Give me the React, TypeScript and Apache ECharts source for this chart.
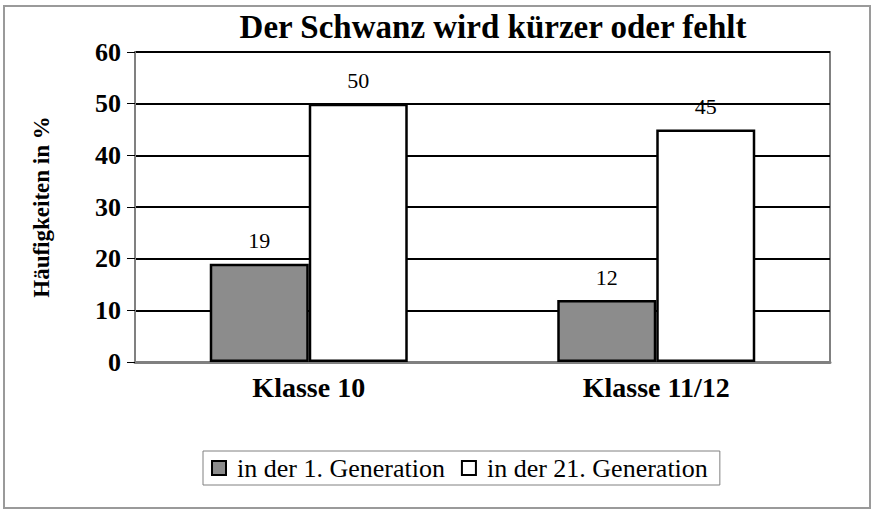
import React, { useEffect, useRef } from "react";
import * as echarts from "echarts";

const titleText = "Der Schwanz wird kürzer oder fehlt";
const yAxisName = "Häufigkeiten in %";
const categories = ["Klasse 10", "Klasse 11/12"];
const seriesNames = ["in der 1. Generation", "in der 21. Generation"];
const gen1Values = [19, 12];
const gen21Values = [50, 45];
const yMin = 0;
const yMax = 60;
const yInterval = 10;

const SERIF = "'Liberation Serif', 'Times New Roman', serif";

export default function App() {
  const ref = useRef<HTMLDivElement>(null);
  useEffect(() => {
    document.body.style.margin = "0";
    const chart = echarts.init(ref.current!, null, { renderer: "svg" });
    const labelStyle = {
      show: true,
      position: "top" as const,
      distance: 12,
      fontFamily: SERIF,
      fontSize: 22,
      color: "#000",
    };
    chart.setOption({
      animation: false,
      backgroundColor: "#fff",
      title: {
        text: titleText,
        left: 488,
        top: 5,
        textAlign: "center",
        textStyle: { fontFamily: SERIF, fontWeight: "bold", fontSize: 33, color: "#000" },
      },
      graphic: [
        {
          type: "rect",
          shape: { x: 4, y: 6, width: 866, height: 502 },
          style: { fill: "none", stroke: "#9a9a9a", lineWidth: 2 },
          silent: true,
          z: -1,
        },
      ],
      grid: {
        left: 135,
        right: 43,
        top: 52,
        bottom: 148,
        show: true,
        borderColor: "#808080",
        borderWidth: 2,
        containLabel: false,
      },
      legend: {
        left: 203,
        top: 451,
        itemWidth: 14,
        itemHeight: 14,
        itemGap: 16,
        padding: [4, 12, 4, 8],
        borderColor: "#808080",
        borderWidth: 1,
        icon: "rect",
        textStyle: { fontFamily: SERIF, fontSize: 26, color: "#000", padding: [0, 0, 0, 6] },
        data: seriesNames,
      },
      xAxis: {
        type: "category",
        data: categories,
        axisTick: { show: false },
        axisLine: { lineStyle: { color: "#808080", width: 3 } },
        axisLabel: {
          margin: 11,
          fontFamily: SERIF,
          fontWeight: "bold",
          fontSize: 28,
          color: "#000",
        },
      },
      yAxis: {
        type: "value",
        min: yMin,
        max: yMax,
        interval: yInterval,
        name: yAxisName,
        nameLocation: "middle",
        nameGap: 82,
        nameTextStyle: { fontFamily: SERIF, fontWeight: "bold", fontSize: 23, color: "#000" },
        axisLine: { show: true, lineStyle: { color: "#808080", width: 2 } },
        axisTick: { show: true, length: 8, lineStyle: { color: "#000", width: 1 } },
        axisLabel: {
          margin: 14,
          fontFamily: SERIF,
          fontWeight: "bold",
          fontSize: 26,
          color: "#000",
        },
        splitLine: { show: true, lineStyle: { color: "#000", width: 2 } },
      },
      series: [
        {
          name: seriesNames[0],
          type: "bar",
          data: gen1Values,
          barWidth: 99,
          barGap: "0%",
          itemStyle: { color: "#8c8c8c", borderColor: "#000", borderWidth: 2.5 },
          label: labelStyle,
        },
        {
          name: seriesNames[1],
          type: "bar",
          data: gen21Values,
          barWidth: 99,
          barGap: "0%",
          itemStyle: { color: "#fff", borderColor: "#000", borderWidth: 2.5 },
          label: labelStyle,
        },
      ],
    });
    return () => chart.dispose();
  }, []);
  return <div ref={ref} style={{ width: 873, height: 510 }} />;
}
